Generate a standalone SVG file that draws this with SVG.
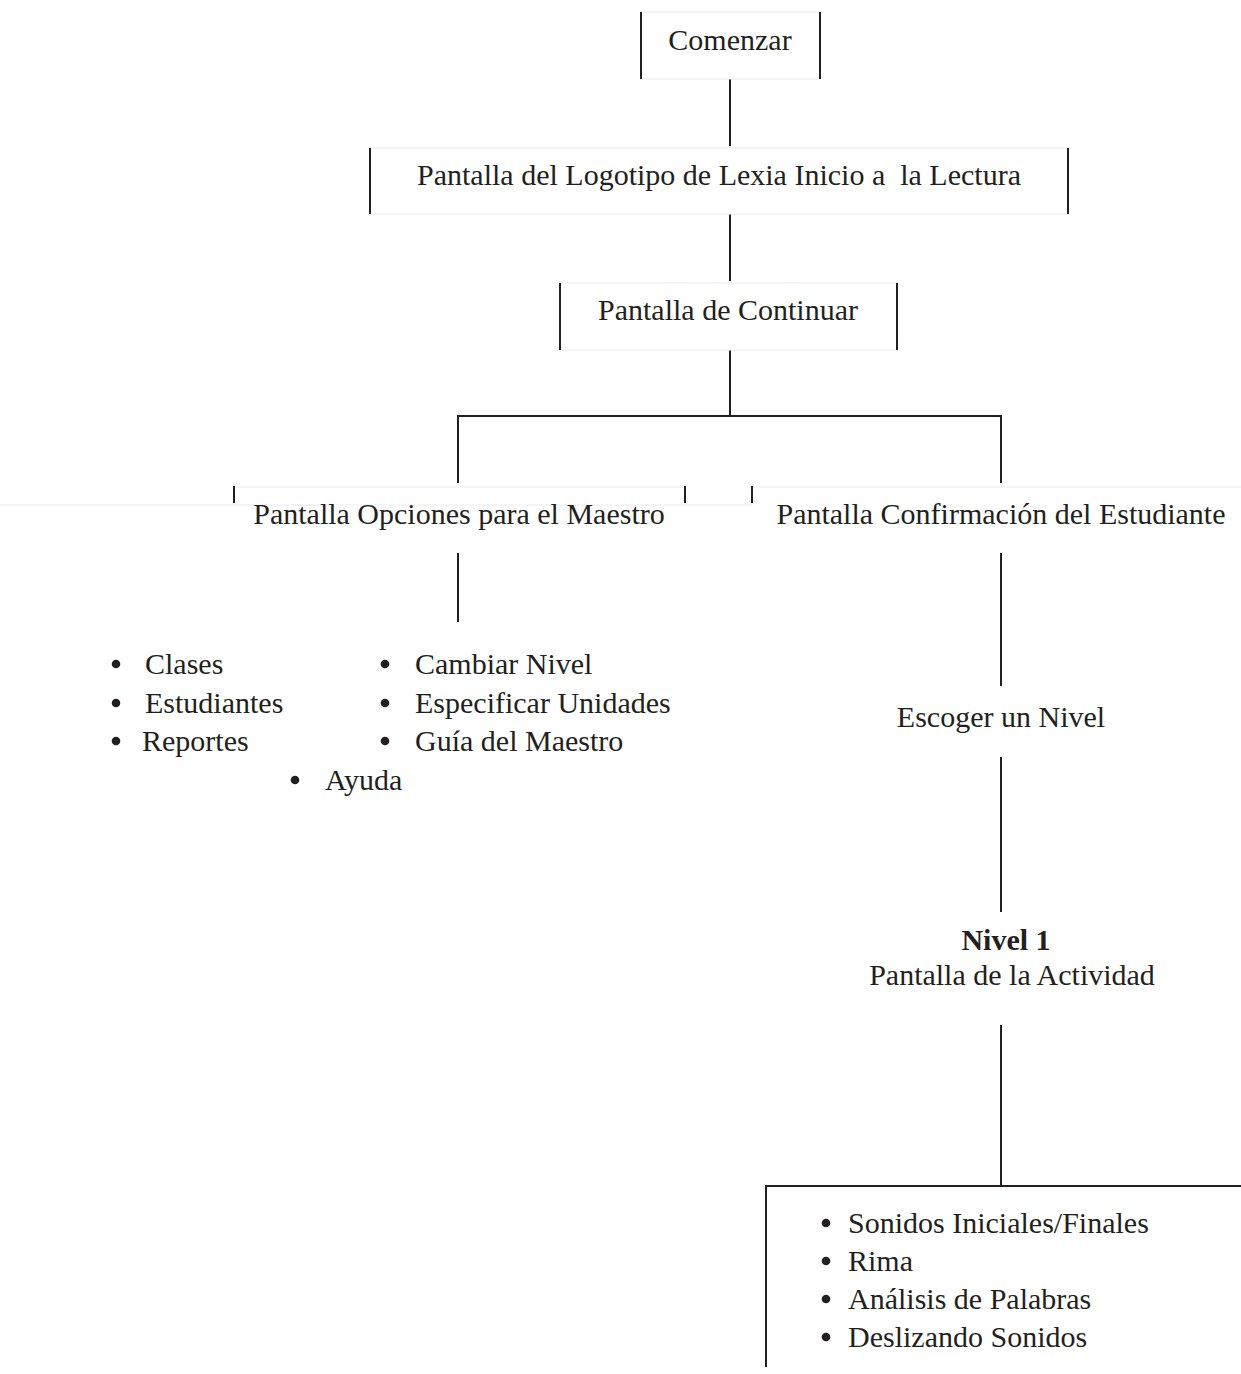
<svg xmlns="http://www.w3.org/2000/svg" width="1241" height="1374" viewBox="0 0 1241 1374">
<style>
text{font-family:"Liberation Serif","Times New Roman",serif;font-size:30px;fill:#231f20;white-space:pre}
.c{text-anchor:middle}
.b{font-weight:bold}
.dot{fill:#231f20}
.bar{stroke:#231f20;stroke-width:2;fill:none}
.faint{stroke:#ececec;stroke-width:1;fill:none}
</style>
<defs><circle id="bullet" r="4.3" class="dot"/></defs>
<rect width="1241" height="1374" fill="#fff"/>
<g id="connectors" class="bar">
<line x1="730" y1="79" x2="730" y2="146"/>
<line x1="730" y1="214" x2="730" y2="281"/>
<line x1="730" y1="350" x2="730" y2="416"/>
<line x1="458" y1="416" x2="1001" y2="416"/>
<line x1="458" y1="415" x2="458" y2="483"/>
<line x1="1001" y1="415" x2="1001" y2="483"/>
<line x1="458" y1="553" x2="458" y2="622"/>
<line x1="1001" y1="553" x2="1001" y2="686"/>
<line x1="1001" y1="757" x2="1001" y2="912"/>
<line x1="1001" y1="1025" x2="1001" y2="1186"/>
</g>
<g id="comenzar">
<rect class="faint" x="641" y="12" width="179" height="67"/>
<line class="bar" x1="641" y1="12" x2="641" y2="79"/>
<line class="bar" x1="820" y1="12" x2="820" y2="79"/>
<text class="c" x="730" y="50">Comenzar</text>
</g>
<g id="logotipo">
<rect class="faint" x="370" y="148" width="698" height="66"/>
<line class="bar" x1="370" y1="148" x2="370" y2="214"/>
<line class="bar" x1="1068" y1="148" x2="1068" y2="214"/>
<text class="c" x="719" y="185">Pantalla del Logotipo de Lexia Inicio a  la Lectura</text>
</g>
<g id="continuar">
<rect class="faint" x="560" y="283" width="337" height="67"/>
<line class="bar" x1="560" y1="283" x2="560" y2="350"/>
<line class="bar" x1="897" y1="283" x2="897" y2="350"/>
<text class="c" x="728" y="320">Pantalla de Continuar</text>
</g>
<g id="opciones">
<line class="faint" x1="234" y1="487" x2="685" y2="487"/>
<line class="faint" x1="0" y1="505" x2="752" y2="505"/>
<line class="bar" x1="234" y1="486" x2="234" y2="503"/>
<line class="bar" x1="685" y1="486" x2="685" y2="503"/>
<text class="c" x="459" y="524">Pantalla Opciones para el Maestro</text>
</g>
<g id="confirmacion">
<line class="faint" x1="752" y1="487" x2="1241" y2="487"/>
<line class="bar" x1="752" y1="486" x2="752" y2="503"/>
<text class="c" x="1001" y="524">Pantalla Confirmación del Estudiante</text>
</g>
<g id="maestro-opciones">
<use href="#bullet" x="116" y="664"/><text x="145" y="674">Clases</text>
<use href="#bullet" x="116" y="703"/><text x="145" y="713">Estudiantes</text>
<use href="#bullet" x="116" y="741"/><text x="142" y="751">Reportes</text>
<use href="#bullet" x="385" y="664"/><text x="415" y="674">Cambiar Nivel</text>
<use href="#bullet" x="385" y="703"/><text x="415" y="713">Especificar Unidades</text>
<use href="#bullet" x="385" y="741"/><text x="415" y="751">Guía del Maestro</text>
<use href="#bullet" x="295" y="780"/><text x="325" y="790">Ayuda</text>
</g>
<g id="escoger">
<text class="c" x="1001" y="727">Escoger un Nivel</text>
</g>
<g id="nivel1">
<text class="c b" x="1006" y="950">Nivel 1</text>
<text class="c" x="1012" y="985">Pantalla de la Actividad</text>
</g>
<g id="actividades">
<line class="bar" x1="766" y1="1186" x2="1241" y2="1186"/>
<line class="bar" x1="766" y1="1185" x2="766" y2="1367"/>
<use href="#bullet" x="826" y="1223"/><text x="848" y="1233">Sonidos Iniciales/Finales</text>
<use href="#bullet" x="826" y="1261"/><text x="848" y="1271">Rima</text>
<use href="#bullet" x="826" y="1299"/><text x="848" y="1309">Análisis de Palabras</text>
<use href="#bullet" x="826" y="1337"/><text x="848" y="1347">Deslizando Sonidos</text>
</g>
</svg>
